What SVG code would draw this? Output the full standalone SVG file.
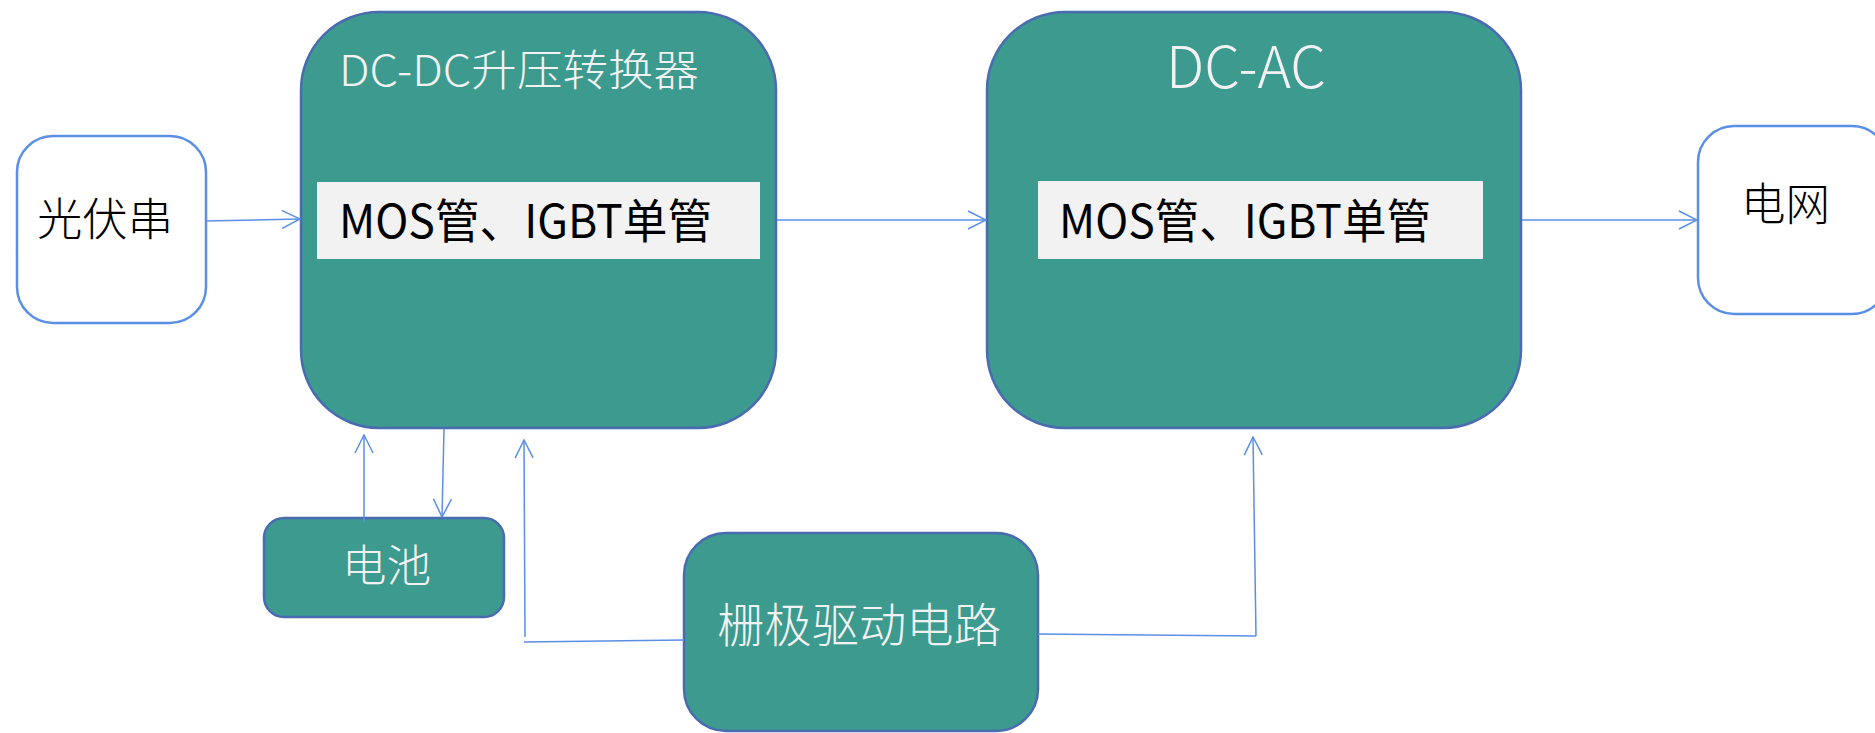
<svg xmlns="http://www.w3.org/2000/svg" width="1875" height="733" viewBox="0 0 1875 733">
<style>
.white{fill:#FFFFFF;stroke:#5B8FE6;stroke-width:2.5}
.teal{fill:#3C9A8F;stroke:#4A6BB0;stroke-width:2.5}
.inner{fill:#F2F2F2;stroke:none}
.conn{fill:none;stroke:#5B8FE6;stroke-width:1.5}
text{font-family:"Noto Sans CJK SC","Liberation Sans",sans-serif}
.lt{fill:#F2F2F2;font-weight:300}
.dk{fill:#000000}
.thin{font-weight:300}
</style>
<defs>
<marker id="arr" viewBox="0 0 20 20" refX="19" refY="10" markerWidth="20" markerHeight="20" markerUnits="userSpaceOnUse" orient="auto">
<path d="M1,1 L19,10 L1,19" fill="none" stroke="#5B8FE6" stroke-width="1.5"/>
</marker>
</defs>
<g id="pv">
<rect class="white" x="17" y="136" width="189" height="187" rx="36" ry="36"/>
<text class="dk thin" x="37" y="236" font-size="45" textLength="136" lengthAdjust="spacingAndGlyphs">光伏串</text>
</g>
<g id="dcdc">
<rect class="teal" x="301" y="12" width="475" height="416" rx="78" ry="78"/>
<text class="lt" x="339" y="86" font-size="43" textLength="360" lengthAdjust="spacingAndGlyphs">DC-DC升压转换器</text>
<rect class="inner" x="317" y="182" width="443" height="77"/>
<text class="dk" x="339" y="238" font-size="47" textLength="373" lengthAdjust="spacingAndGlyphs">MOS管、IGBT单管</text>
</g>
<g id="dcac">
<rect class="teal" x="987" y="12" width="534" height="416" rx="78" ry="78"/>
<text class="lt" x="1166" y="88" font-size="57" textLength="160" lengthAdjust="spacingAndGlyphs">DC-AC</text>
<rect class="inner" x="1038" y="181" width="445" height="78"/>
<text class="dk" x="1059" y="238" font-size="47" textLength="372" lengthAdjust="spacingAndGlyphs">MOS管、IGBT单管</text>
</g>
<g id="grid">
<rect class="white" x="1698" y="126" width="190" height="188" rx="36" ry="36"/>
<text class="dk thin" x="1741" y="221" font-size="45" textLength="89" lengthAdjust="spacingAndGlyphs">电网</text>
</g>
<g id="battery">
<rect class="teal" x="264" y="518" width="240" height="99" rx="20" ry="20"/>
<text class="lt" x="342" y="582" font-size="44" textLength="89" lengthAdjust="spacingAndGlyphs">电池</text>
</g>
<g id="gate">
<rect class="teal" x="684" y="533" width="354" height="198" rx="42" ry="42"/>
<text class="lt" x="717" y="642" font-size="47" textLength="284" lengthAdjust="spacingAndGlyphs">栅极驱动电路</text>
</g>
<g id="connectors">
<line class="conn" x1="206" y1="221" x2="300" y2="219" marker-end="url(#arr)"/>
<line class="conn" x1="777" y1="220" x2="986" y2="220" marker-end="url(#arr)"/>
<line class="conn" x1="1522" y1="220" x2="1697" y2="220" marker-end="url(#arr)"/>
<line class="conn" x1="364" y1="522" x2="364" y2="435" marker-end="url(#arr)"/>
<line class="conn" x1="444" y1="429" x2="442" y2="517" marker-end="url(#arr)"/>
<line class="conn" x1="684" y1="640" x2="524" y2="642"/>
<line class="conn" x1="525" y1="637" x2="524" y2="440" marker-end="url(#arr)"/>
<line class="conn" x1="1038" y1="634" x2="1256" y2="636"/>
<line class="conn" x1="1256" y1="636" x2="1253" y2="437" marker-end="url(#arr)"/>
</g>
</svg>
